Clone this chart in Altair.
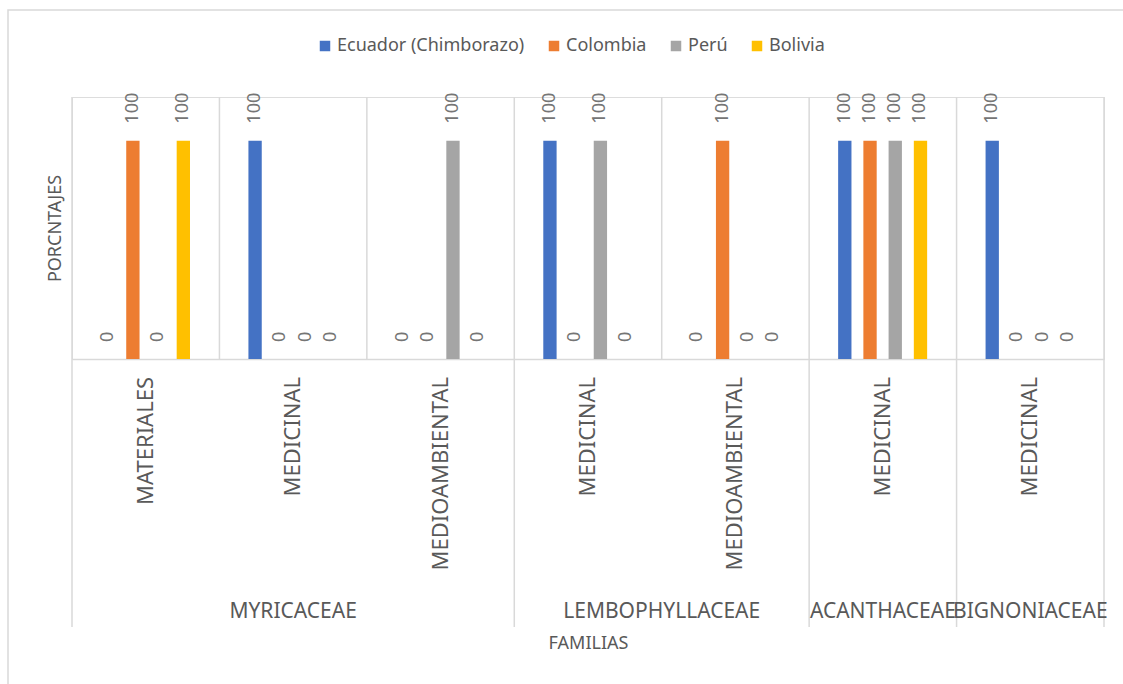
import altair as alt
import pandas as pd

familias = ["MYRICACEAE", "MYRICACEAE", "MYRICACEAE", "LEMBOPHYLLACEAE",
            "LEMBOPHYLLACEAE", "ACANTHACEAE", "BIGNONIACEAE"]
usos = ["MATERIALES", "MEDICINAL", "MEDIOAMBIENTAL", "MEDICINAL",
        "MEDIOAMBIENTAL", "MEDICINAL", "MEDICINAL"]
series = ["Ecuador (Chimborazo)", "Colombia", "Perú", "Bolivia"]
ecuador = [0, 100, 0, 100, 0, 100, 100]
colombia = [100, 0, 0, 0, 100, 100, 0]
peru = [0, 0, 100, 100, 0, 100, 0]
bolivia = [100, 0, 0, 0, 0, 100, 0]
colores = ["#4472C4", "#ED7D31", "#A5A5A5", "#FFC000"]

FONT = "Noto Sans"
W, H = 1032, 262
n = len(usos)
keys = [f"{i}|{f}|{u}" for i, (f, u) in enumerate(zip(familias, usos))]
cats = pd.DataFrame({"key": keys, "idx": list(range(n)), "familia": familias, "uso": usos})
rows = []
for s, vals in zip(series, [ecuador, colombia, peru, bolivia]):
    for k, v in zip(keys, vals):
        rows.append({"key": k, "serie": s, "valor": v})
bars_df = pd.DataFrame(rows)

bounds = pd.DataFrame({"b": list(range(n + 1))})
gb = [i for i in range(n + 1) if i == 0 or i == n or familias[i] != familias[i - 1]]
gbounds = pd.DataFrame({"b": gb})

x_band = alt.X(
    "key:N", sort=keys,
    scale=alt.Scale(paddingInner=0, paddingOuter=0),
    axis=alt.Axis(labels=False, ticks=False, domain=True, domainColor="#d9d9d9",
                  domainWidth=1.5, grid=False, title="FAMILIAS", titlePadding=275,
                  titleFontSize=18, titleFontWeight="normal", titleColor="#595959",
                  titleFont=FONT),
)
x_off = alt.XOffset("serie:N", sort=series,
                    scale=alt.Scale(domain=series, range=[29, 118],
                                    paddingInner=0.472, paddingOuter=0))
y_enc = alt.Y(
    "valor:Q", scale=alt.Scale(domain=[0, 120]),
    axis=alt.Axis(labels=False, ticks=False, domain=False, grid=False,
                  title="PORCNTAJES", titlePadding=8, titleFontSize=18,
                  titleFontWeight="normal", titleColor="#595959", titleFont=FONT),
)

bars = alt.Chart(bars_df).mark_bar().encode(
    x=x_band, xOffset=x_off, y=y_enc,
    color=alt.Color("serie:N", sort=series,
                    scale=alt.Scale(domain=series, range=colores),
                    legend=alt.Legend(orient="none", legendX=244, legendY=-60,
                                      direction="horizontal", title=None,
                                      symbolType="square", symbolSize=110,
                                      symbolStrokeWidth=0, labelFontSize=18,
                                      labelColor="#595959", labelFont=FONT,
                                      labelLimit=400, columnPadding=20, labelOffset=3)),
)
vlabels = alt.Chart(bars_df).mark_text(
    angle=270, align="left", baseline="middle", dx=17, fontSize=18,
    color="#757575", font=FONT,
).encode(x=x_band, xOffset=x_off, y=y_enc, text="valor:Q")

uso_labels = alt.Chart(cats).mark_text(
    angle=270, align="right", baseline="middle", fontSize=22,
    color="#595959", font=FONT,
).encode(x=x_band, y=alt.value(280), text="uso:N")

inner = alt.layer(bars, vlabels, uso_labels)

qx = lambda f: alt.X(f, scale=alt.Scale(domain=[0, n], nice=False, zero=False), axis=None)

rules_short = alt.Chart(bounds).mark_rule(color="#d9d9d9", strokeWidth=1.5).encode(
    x=qx("b:Q"), y=alt.value(0), y2=alt.value(H))
rules_long = alt.Chart(gbounds).mark_rule(color="#d9d9d9", strokeWidth=1.5).encode(
    x=qx("b:Q"), y=alt.value(H), y2=alt.value(530))

group_labels = alt.Chart(cats).transform_aggregate(
    lo="min(idx)", hi="max(idx)", groupby=["familia"]
).transform_calculate(center="(datum.lo + datum.hi + 1) / 2").mark_text(
    fontSize=21, color="#595959", baseline="middle", font=FONT,
).encode(x=qx("center:Q"), y=alt.value(515), text="familia:N")

border = alt.Chart(pd.DataFrame({"a": [0]})).mark_rect(
    fill="white", fillOpacity=0, stroke="#d9d9d9", strokeWidth=1.5
).encode(x=alt.value(-64), x2=alt.value(W + 40), y=alt.value(-87), y2=alt.value(H + 340))

chart = alt.layer(border, rules_short, rules_long, group_labels, inner).resolve_scale(
    x="independent"
).properties(
    width=W, height=H,
    autosize=alt.AutoSizeParams(type="none"),
    padding={"left": 72, "top": 97, "right": 1123 - 72 - W, "bottom": 684 - 97 - H},
).configure_view(stroke=None).configure(background="white")

chart.save("out.html", embed_options={"renderer": "svg", "actions": False})
